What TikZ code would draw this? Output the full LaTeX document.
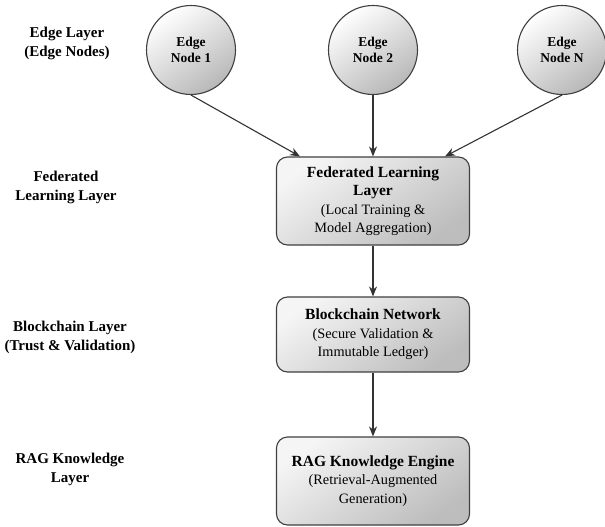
\documentclass[tikz,border=0pt]{standalone}
\usepackage{fontspec}
\setmainfont{Liberation Serif}
\usetikzlibrary{arrows.meta,positioning}

\begin{document}
\begin{tikzpicture}[x=1pt,y=1pt,
  edgenode/.style={circle,draw=black!75,line width=1.1pt,minimum size=89pt,inner sep=0pt,
    top color=white,bottom color=black!28,shading angle=35,align=center,font=\bfseries\fontsize{13.5}{16.5}\selectfont},
  layerbox/.style={rectangle,rounded corners=11pt,draw=black!75,line width=1.1pt,minimum width=193pt,
    top color=black!4,bottom color=black!26,shading angle=35,align=center,font=\fontsize{14.3}{18.5}\selectfont},
  layerlabel/.style={align=center,font=\bfseries\fontsize{15}{19}\selectfont},
  flow/.style={-{Stealth[length=10pt,width=8pt]},line width=1.1pt,draw=black!80}]
\useasboundingbox[fill=white] (0,0) rectangle (605,-527);
% left column labels
\node[layerlabel] (lab1) at (67,-43) {Edge Layer\\(Edge Nodes)};
\node[layerlabel] (lab2) at (66,-187) {Federated\\Learning Layer};
\node[layerlabel] (lab3) at (70,-337.5) {Blockchain Layer\\(Trust \& Validation)};
\node[layerlabel] (lab4) at (70,-469) {RAG Knowledge\\Layer};
% edge nodes
\node[edgenode] (e1) at (191,-50) {Edge\\Node 1};
\node[edgenode] (e2) at (373,-50) {Edge\\Node 2};
\node[edgenode] (eN) at (562,-50) {Edge\\Node N};
% main stack
\node[layerbox,minimum height=88pt] (fl) at (373,-201)
  {{\bfseries\fontsize{15.5}{18.5}\selectfont Federated Learning}\\{\bfseries\fontsize{15.5}{18.5}\selectfont Layer}\\(Local Training \&\\Model Aggregation)};
\node[layerbox,minimum height=75pt] (bc) at (373,-334.5)
  {{\bfseries\fontsize{15.5}{18.5}\selectfont Blockchain Network}\\(Secure Validation \&\\Immutable Ledger)};
\node[layerbox,minimum height=88pt] (rag) at (373,-481)
  {{\bfseries\fontsize{15.5}{18.5}\selectfont RAG Knowledge Engine}\\(Retrieval-Augmented\\Generation)};
\draw[flow] (e1.south) -- (300,0 |- fl.north);
\draw[flow] (e2) -- (fl);
\draw[flow] (eN.south) -- (445,0 |- fl.north);
\draw[flow] (fl) -- (bc);
\draw[flow] (bc) -- (rag);
\end{tikzpicture}
\end{document}
